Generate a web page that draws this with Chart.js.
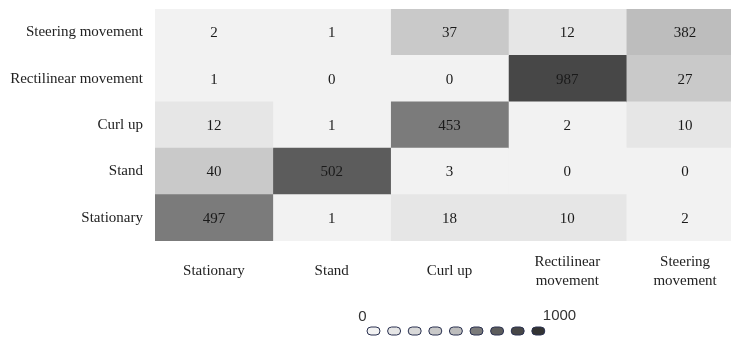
<!DOCTYPE html>
<html>
<head>
<meta charset="utf-8">
<script src="https://cdn.jsdelivr.net/npm/chart.js@4/dist/chart.umd.min.js"></script>
<style>
  html, body { margin: 0; padding: 0; background: #fff; overflow: hidden; }
  #chart { display: block; }
</style>
</head>
<body>
<canvas id="chart" width="744" height="338"></canvas>
<script>
// rows top to bottom, columns left to right
const rowLabels = ['Steering movement', 'Rectilinear movement', 'Curl up', 'Stand', 'Stationary'];
const columnLabels = ['Stationary', 'Stand', 'Curl up', ['Rectilinear', 'movement'], ['Steering', 'movement']];

const steeringRow = [2, 1, 37, 12, 382];
const rectilinearRow = [1, 0, 0, 987, 27];
const curlUpRow = [12, 1, 453, 2, 10];
const standRow = [40, 502, 3, 0, 0];
const stationaryRow = [497, 1, 18, 10, 2];
const matrix = [steeringRow, rectilinearRow, curlUpRow, standRow, stationaryRow];

// visual map pieces
const pieceColors = ['#f2f2f2', '#e6e6e6', '#d9d9d9', '#c9c9c9', '#bdbdbd', '#7b7b7b', '#5c5c5c', '#474747', '#333333'];
const pieceUpper = [5, 20, 25, 50, 400, 500, 600, 990, 1000];
const rangeLabels = ['0', '1000'];

function colorFor(v) {
	for (let i = 0; i < pieceUpper.length; i++) {
		if (v < pieceUpper[i]) return pieceColors[i];
	}
	return pieceColors[pieceColors.length - 1];
}

const datasets = columnLabels.map((_, j) => ({
	label: 'col' + j,
	data: rowLabels.map(() => [j, j + 1]),
	backgroundColor: matrix.map(row => colorFor(row[j])),
	borderWidth: 0,
	barPercentage: 1,
	categoryPercentage: 1,
	grouped: false,
}));

const cellText = {
	id: 'cellText',
	afterDatasetsDraw(chart) {
		const ctx = chart.ctx;
		ctx.save();
		ctx.font = '15px "Liberation Serif", "Times New Roman", serif';
		ctx.fillStyle = '#1a1a1a';
		ctx.textAlign = 'center';
		ctx.textBaseline = 'middle';
		chart.data.datasets.forEach((ds, j) => {
			const meta = chart.getDatasetMeta(j);
			meta.data.forEach((bar, i) => {
				const p = bar.getCenterPoint();
				ctx.fillText(String(matrix[i][j]), p.x, p.y + 1);
			});
		});
		ctx.restore();
	},
};

const visualMap = {
	id: 'visualMap',
	afterDraw(chart) {
		const ctx = chart.ctx;
		const left = 367, top = 327, w = 13, h = 8, gap = 20.6;
		ctx.save();
		pieceColors.forEach((c, i) => {
			const x = left + i * gap;
			ctx.beginPath();
			ctx.roundRect(x, top, w, h, 4);
			ctx.fillStyle = c;
			ctx.fill();
			ctx.lineWidth = 1;
			ctx.strokeStyle = '#2a3150';
			ctx.stroke();
		});
		ctx.font = '15px "Liberation Sans", Arial, sans-serif';
		ctx.fillStyle = '#333';
		ctx.textBaseline = 'middle';
		ctx.textAlign = 'right';
		ctx.fillText(rangeLabels[0], left - 0.5, 317);
		ctx.textAlign = 'left';
		ctx.fillText(rangeLabels[1], left + (pieceColors.length - 1) * gap + w - 2, 316);
		ctx.restore();
	},
};

const chartFont = { family: '"Liberation Serif", "Times New Roman", serif', size: 15 };

new Chart(document.getElementById('chart'), {
	type: 'bar',
	data: { labels: rowLabels, datasets },
	options: {
		indexAxis: 'y',
		responsive: false,
		animation: false,
		devicePixelRatio: 1,
		layout: { padding: { top: 9, right: 0, bottom: 0, left: 0 } },
		plugins: { legend: { display: false }, tooltip: { enabled: false } },
		scales: {
			x: {
				type: 'linear',
				min: 0,
				max: columnLabels.length,
				grid: { display: false, drawTicks: false },
				border: { display: false },
				afterBuildTicks: scale => {
					scale.ticks = columnLabels.map((_, j) => ({ value: j + 0.5 }));
				},
				afterFit: scale => {
					scale.height = 97;
					scale.paddingLeft = 0;
					scale.paddingRight = 0;
				},
				ticks: {
					autoSkip: false,
					maxRotation: 0,
					padding: 21,
					crossAlign: 'center',
					color: '#222',
					font: { ...chartFont, lineHeight: '19px' },
					callback: (value, index) => columnLabels[index],
				},
			},
			y: {
				type: 'category',
				grid: { display: false, drawTicks: false },
				border: { display: false },
				afterFit: scale => {
					scale.width = 155;
					scale.paddingTop = 0;
					scale.paddingBottom = 0;
				},
				ticks: {
					padding: 12,
					color: '#222',
					font: chartFont,
				},
			},
		},
	},
	plugins: [cellText, visualMap],
});
</script>
</body>
</html>
